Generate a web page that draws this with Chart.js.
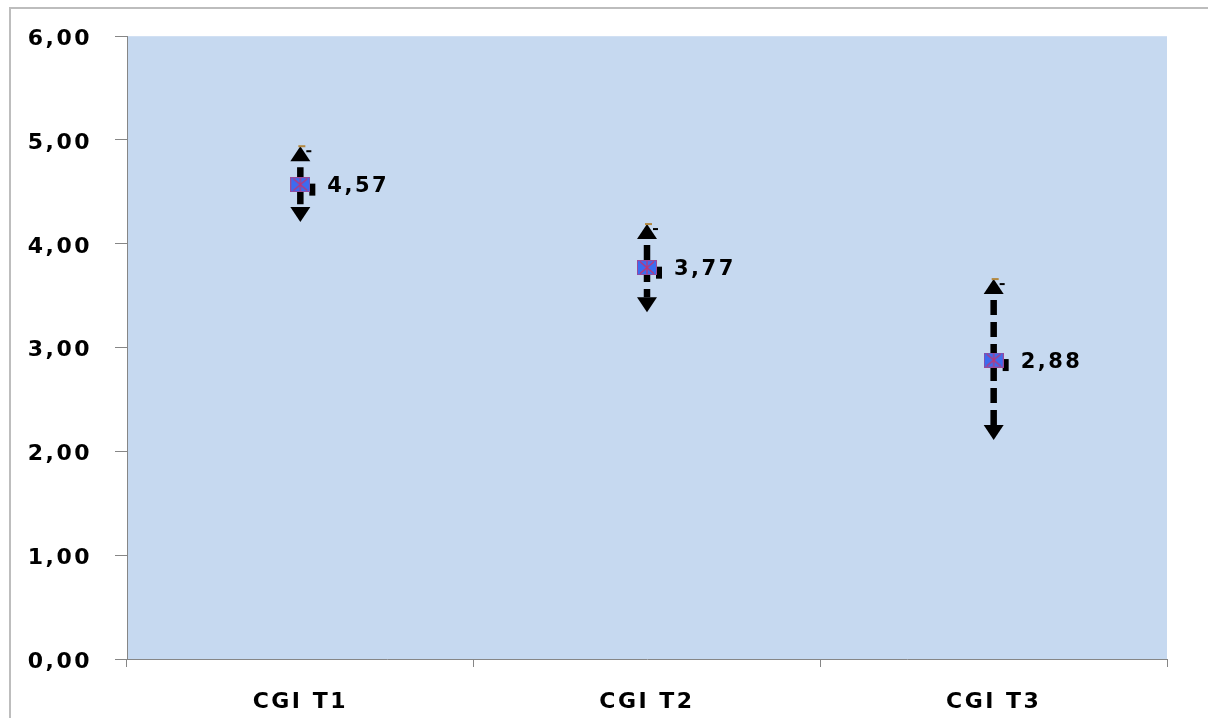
<!DOCTYPE html>
<html>
<head>
<meta charset="utf-8">
<script src="https://cdn.jsdelivr.net/npm/chart.js@4.4.1/dist/chart.umd.min.js"></script>
<style>
  html, body { margin: 0; padding: 0; background: #fff; }
  #wrap { position: relative; width: 1208px; height: 718px; overflow: hidden; }
  #frame { position: absolute; left: 9px; top: 7px; right: -10px; bottom: -10px;
           border-top: 2px solid #bdbdbd; border-left: 2px solid #bdbdbd; }
  canvas { position: absolute; left: 0; top: 0; }
</style>
</head>
<body>
<div id="wrap">
  <div id="frame"></div>
  <canvas id="chart" width="1208" height="718"></canvas>
</div>
<script>
// ── Data ─────────────────────────────────────────────────────────────────────
const CATEGORIES = ["CGI T1", "CGI T2", "CGI T3"];
const MEANS      = [4.57, 3.77, 2.88];
const ERR_PLUS   = [0.37, 0.42, 0.78];
const ERR_MINUS  = [0.36, 0.43, 0.77];
const Y_TICKS    = [0, 1, 2, 3, 4, 5, 6];

const FONT = "'DejaVu Sans', Verdana, sans-serif";
const AXIS_GREY = "#868686";
const fmt = (v) => v.toFixed(2).replace(".", ",");

// ── Marker: blue square with red star on top ─────────────────────────────────
function makeMarker() {
  const c = document.createElement("canvas");
  c.width = 20; c.height = 15;
  const g = c.getContext("2d");
  g.fillStyle = "#3c6cf0";
  g.fillRect(0, 0, 20, 15);
  g.strokeStyle = "#9a4a9a"; g.lineWidth = 1;
  g.strokeRect(0.5, 0.5, 19, 14);
  g.strokeStyle = "#c8346e"; g.lineWidth = 1.2;
  g.beginPath();
  g.moveTo(3, 1.5);  g.lineTo(17, 13.5);
  g.moveTo(17, 1.5); g.lineTo(3, 13.5);
  g.moveTo(10, 1);   g.lineTo(10, 14);
  g.stroke();
  return c;
}

// ── Plugins ──────────────────────────────────────────────────────────────────
const plotBg = {
  id: "plotBg",
  beforeDraw(chart) {
    const { ctx, chartArea: a } = chart;
    ctx.letterSpacing = "2.5px";   // reference text is horizontally stretched
    ctx.save();
    ctx.fillStyle = "#c6d9f0";
    ctx.fillRect(a.left, a.top, a.right - a.left, a.bottom - a.top);
    ctx.restore();
  }
};

function arrowHead(ctx, x, tipY, dir) {
  ctx.beginPath();
  ctx.moveTo(x, tipY);
  ctx.lineTo(x - 10, tipY + dir * 15);
  ctx.lineTo(x + 10, tipY + dir * 15);
  ctx.closePath();
  ctx.fill();
}

const errorBars = {
  id: "errorBars",
  beforeDatasetsDraw(chart) {
    const { ctx, scales: { x, y } } = chart;
    MEANS.forEach((m, i) => {
      const px  = x.getPixelForValue(i);
      const py  = y.getPixelForValue(m);
      const top = y.getPixelForValue(m + ERR_PLUS[i]);
      const bot = y.getPixelForValue(m - ERR_MINUS[i]);
      ctx.save();
      ctx.strokeStyle = "#000";
      ctx.lineWidth = 6.5;
      ctx.setLineDash([15, 7]);
      ctx.lineDashOffset = 16;     // start with a short gap below the arrow head
      ctx.beginPath();
      ctx.moveTo(px, top + 15);
      ctx.lineTo(px, bot - 15);
      ctx.stroke();
      ctx.setLineDash([]);
      ctx.fillStyle = "#000";
      arrowHead(ctx, px, top, 1);
      arrowHead(ctx, px, bot, -1);
      ctx.fillRect(px + 9, py - 1, 6, 12);      // little tab beside the marker
      ctx.fillRect(px + 6, top + 4, 5, 2);
      ctx.fillStyle = "#b3883f";                // error bar cap
      ctx.fillRect(px - 2, top - 1, 7, 2);
      ctx.restore();
    });
  },
  afterDatasetsDraw(chart) {
    const { ctx, scales: { x, y } } = chart;
    ctx.save();
    ctx.font = "bold 21px " + FONT;
    ctx.fillStyle = "#000";
    ctx.textAlign = "left";
    ctx.textBaseline = "middle";
    MEANS.forEach((m, i) => {
      ctx.fillText(fmt(m), x.getPixelForValue(i) + 27, y.getPixelForValue(m) + 2);
    });
    ctx.restore();
  }
};

// ── Chart ────────────────────────────────────────────────────────────────────
new Chart(document.getElementById("chart"), {
  type: "line",
  data: {
    labels: CATEGORIES,
    datasets: [{
      data: MEANS,
      showLine: false,
      pointStyle: makeMarker(),
      pointRadius: 10,
      pointHoverRadius: 10,
      clip: false,
    }]
  },
  options: {
    responsive: false,
    animation: false,
    layout: { padding: { left: 10, top: 36, right: 41, bottom: 0 } },
    plugins: { legend: { display: false }, tooltip: { enabled: false } },
    scales: {
      x: {
        offset: true,
        grid: { offset: true, drawOnChartArea: false, color: AXIS_GREY, tickLength: 8 },
        border: { color: AXIS_GREY },
        ticks: { color: "#000", font: { family: FONT, size: 22, weight: "bold" }, padding: 22 },
        afterFit(s) { s.height = 59; }
      },
      y: {
        min: Y_TICKS[0],
        max: Y_TICKS[Y_TICKS.length - 1],
        afterBuildTicks(s) { s.ticks = Y_TICKS.map(v => ({ value: v })); },
        grid: { drawOnChartArea: false, color: AXIS_GREY, tickLength: 12 },
        border: { color: AXIS_GREY },
        ticks: {
          color: "#000",
          font: { family: FONT, size: 22, weight: "bold" },
          padding: 23,
          labelOffset: 3,
          callback: (v) => fmt(v)
        },
        afterFit(s) { s.width = 117; }
      }
    }
  },
  plugins: [plotBg, errorBars]
});
</script>
</body>
</html>
